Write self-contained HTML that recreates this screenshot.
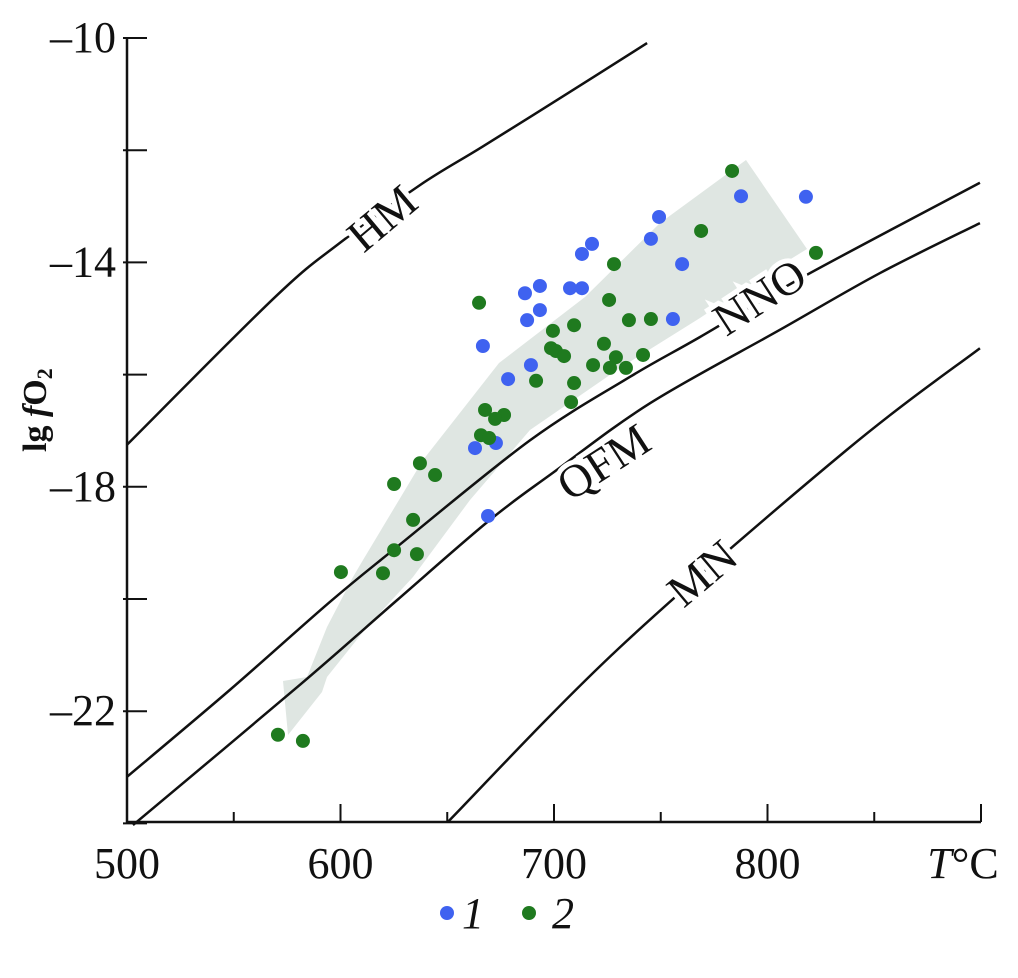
<!DOCTYPE html>
<html><head><meta charset="utf-8"><style>
body{margin:0;background:#fff}
svg text{font-family:"Liberation Serif",serif;fill:#111}
</style></head><body>
<svg width="1018" height="973" viewBox="0 0 1018 973">
<g id="bg"></g>
<g id="axes"></g>
<g id="curves"></g>
<g id="pts"></g>
</svg>
<script>
const xTicks=[500,550,600,650,700,750,800,850,900];
const xLabels=[500,600,700,800];
const yTicks=[-10,-12,-14,-16,-18,-20,-22,-24];
const yLabels=[-10,-14,-18,-22];
const hmT=[500,569.3,599.8,637.3,666.4,706.7,743.6];
const hmY=[-17.25,-14.62,-13.65,-12.62,-11.94,-10.98,-10.09];
const nnoT=[500,548.2,595.1,626.5,688.8,735.6,768.4,816.6,899.5];
const nnoY=[-23.17,-21.62,-20.05,-19.07,-17.17,-16.04,-15.33,-14.26,-12.58];
const qfmT=[502.8,581.0,626.5,670.0,699.5,745.0,805.9,852.7,899.5];
const qfmY=[-24.03,-21.53,-20.02,-18.59,-17.75,-16.51,-15.20,-14.19,-13.30];
const mnT=[650.4,730.9,837.2,899.5];
const mnY=[-23.97,-20.86,-17.34,-15.53];
const blueT=[663.0,666.7,669.1,672.8,678.5,686.4,687.4,689.2,693.4,693.4,713.1,717.8,713.1,707.5,745.4,749.2,760.0,755.7,787.6,818.0];
const blueY=[-17.31,-15.49,-18.52,-17.22,-16.08,-14.55,-15.03,-15.83,-14.42,-14.85,-13.85,-13.67,-14.46,-14.46,-13.58,-13.19,-14.03,-15.01,-12.82,-12.83];
const greenT=[783.4,822.7,768.9,728.1,725.8,735.1,745.4,709.4,699.5,698.6,700.9,723.4,729.0,704.7,718.3,709.4,691.6,726.2,733.7,741.7,708.0,667.7,665.8,676.6,672.4,669.6,664.9,625.1,637.2,644.3,634.0,625.1,635.8,600.2,619.9,570.7,582.4];
const greenY=[-12.37,-13.83,-13.44,-14.03,-14.67,-15.03,-15.01,-15.12,-15.22,-15.53,-15.58,-15.45,-15.69,-15.67,-15.83,-16.15,-16.11,-15.88,-15.88,-15.65,-16.49,-16.63,-17.08,-16.72,-16.79,-17.13,-14.72,-17.95,-17.58,-17.79,-18.59,-19.13,-19.20,-19.52,-19.54,-22.42,-22.53];

const NS='http://www.w3.org/2000/svg';
const X=t=>127+(t-500)*2.135;
const Y=v=>38+(-10-v)*56.1;
function mk(tag,attrs,parent,txt){const e=document.createElementNS(NS,tag);for(const k in attrs)e.setAttribute(k,attrs[k]);if(txt!==undefined)e.textContent=txt;document.getElementById(parent).appendChild(e);return e;}

const arrow=mk('polygon',{points:'746,160 807,249 760,278 700,318 620,368 530,430 470,500 413,577 367,627 327,677 322,692 288,735 283,681 307,677 327,627 353,577 363,560 423,460 499,363 585,297 660,223',fill:'#dfe6e2'},'bg');



const ya=mk('line',{x1:127,y1:38,x2:127,y2:823,stroke:'#111','stroke-width':2.5},'axes');


const xa=mk('line',{x1:126,y1:822,x2:981,y2:822,stroke:'#111','stroke-width':2.5},'axes');


xTicks.forEach(t=>{const len=(t%100===0)?18:10;const l=mk('line',{x1:X(t),y1:822,x2:X(t),y2:822-len,stroke:'#111','stroke-width':2},'axes');

});
yTicks.forEach(v=>{const l=mk('line',{x1:123,y1:Y(v),x2:147,y2:Y(v),stroke:'#111','stroke-width':2},'axes');

});
xLabels.forEach(t=>{const e=mk('text',{x:X(t),y:878,'text-anchor':'middle','font-size':44},'axes',String(t));

});
yLabels.forEach(v=>{const e=mk('text',{x:116,y:Y(v)+14,'text-anchor':'end','font-size':44},'axes','\u2013'+Math.abs(v));

});
const xt=mk('text',{x:963,y:878,'text-anchor':'middle','font-size':44},'axes');
xt.innerHTML='<tspan font-style="italic">T</tspan>°C';


const yt=mk('text',{x:0,y:0,'font-size':34,'font-weight':'bold',transform:'translate(46,452) rotate(-90)'},'axes');
yt.innerHTML='lg <tspan font-style="italic">f</tspan>O<tspan font-size="22" dy="6">2</tspan>';



function curve(ts,vs,name){
 const p=ts.map((t,i)=>[X(t),Y(vs[i])]);
 let d='M'+p[0][0]+','+p[0][1];
 for(let i=0;i<p.length-1;i++){const p0=p[i-1]||p[i],p1=p[i],p2=p[i+1],p3=p[i+2]||p2;
  d+=' C'+(p1[0]+(p2[0]-p0[0])/6)+','+(p1[1]+(p2[1]-p0[1])/6)+' '+(p2[0]-(p3[0]-p1[0])/6)+','+(p2[1]-(p3[1]-p1[1])/6)+' '+p2[0]+','+p2[1];}
 const e=mk('path',{d:d,fill:'none',stroke:'#111','stroke-width':2.5},'curves');
 
 
}
curve(hmT,hmY,'hm-buffer-line');
curve(nnoT,nnoY,'nno-buffer-line');
curve(qfmT,qfmY,'qfm-buffer-line');
curve(mnT,mnY,'mn-buffer-line');
function lab(txt,x,y,rot,name){
 const e=mk('text',{x:0,y:0,'font-size':46,'text-anchor':'middle',transform:`translate(${x},${y}) rotate(${rot})`,stroke:'#fff','stroke-width':10,'paint-order':'stroke'},'curves',txt);
 
 
}
lab('HM',392,230,-40,'hm-label');
lab('NNO',768,310,-33,'nno-label');
lab('QFM',612,475,-33,'qfm-label');
lab('MN',712,585,-40,'mn-label');

blueT.forEach((t,i)=>{const c=mk('circle',{cx:X(t),cy:Y(blueY[i]),r:7,fill:'#3f62f0'},'pts');

});
greenT.forEach((t,i)=>{const c=mk('circle',{cx:X(t),cy:Y(greenY[i]),r:7,fill:'#1f7a1f'},'pts');

});

const l1=mk('circle',{cx:447,cy:913,r:7,fill:'#3f62f0'},'pts');


const t1=mk('text',{x:462,y:928,'font-size':44,'font-style':'italic'},'pts','1');


const l2=mk('circle',{cx:529,cy:913,r:7,fill:'#1f7a1f'},'pts');


const t2=mk('text',{x:552,y:928,'font-size':44,'font-style':'italic'},'pts','2');


</script>
</body></html>
